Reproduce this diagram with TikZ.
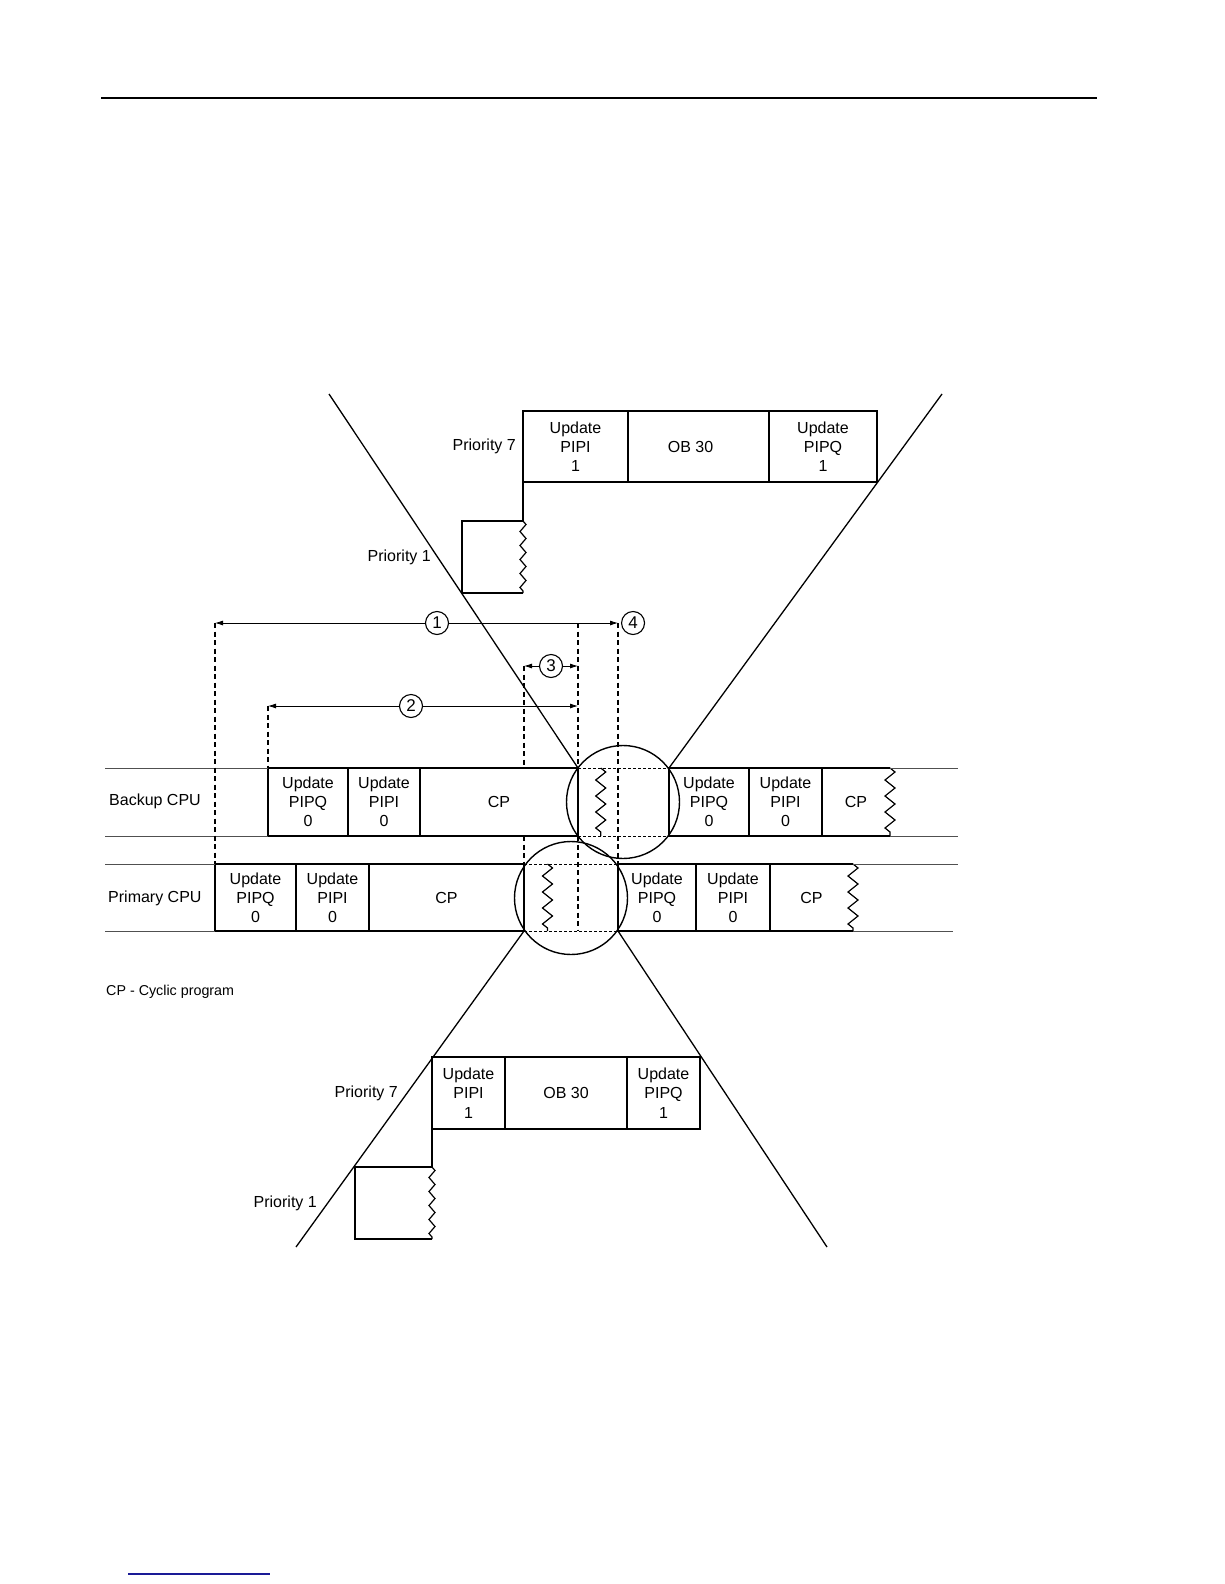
\documentclass[tikz,border=0pt]{standalone}
\usepackage{fontspec}
\setmainfont{Liberation Sans}
\usetikzlibrary{arrows.meta, positioning, calc, decorations.pathmorphing}
\definecolor{linkblue}{HTML}{1A1A96}
\definecolor{railgray}{HTML}{505050}

\begin{document}
\begin{tikzpicture}[
  x=1pt, y=-1pt,
  slot/.style={draw, line width=1.2pt, inner sep=0pt, outer sep=0pt,
               anchor=north west, align=center,
               font=\fontsize{16}{19.2}\selectfont},
  cutbox/.style={slot, draw=none},
  lbl/.style={inner sep=0pt, font=\fontsize{16}{19.2}\selectfont},
  box/.style={line width=1.2pt},
  rim/.style={line width=2pt},
  rail/.style={line width=1pt, draw=railgray},
  ray/.style={line width=1.3pt},
  zz/.style={decorate, decoration={zigzag, segment length=16pt, amplitude=5pt}},
  guide/.style={line width=1.3pt, dash pattern=on 5pt off 3.5pt},
  hidden/.style={line width=0.8pt, dash pattern=on 3pt off 2pt},
  dim/.style={line width=0.8pt, -{Latex[length=8pt,width=5pt]}},
  tag/.style={circle, draw, line width=1.1pt, fill=white, minimum size=23pt,
              inner sep=0pt, font=\fontsize{17}{17}\selectfont},
  lens/.style={circle, draw, line width=1.4pt, minimum size=113pt, inner sep=0pt}
]
\useasboundingbox (0,0) rectangle (1224,1584);

% page rules
\draw[line width=1.4pt] (101,98) -- (1097,98);
\draw[line width=1.4pt, linkblue] (128,1574) -- (270,1574);

% upper interrupt (priority 7 over priority 1)
\node[slot, minimum width=105pt, minimum height=71pt] (tu1) at (523,411) {Update\\PIPI\\1};
\node[slot, minimum width=141pt, minimum height=71pt, right=0pt of tu1] (tob) {OB 30\hspace*{16pt}};
\node[slot, minimum width=108pt, minimum height=71pt, right=0pt of tob] (tuq) {Update\\PIPQ\\1};
\node[cutbox, minimum width=61pt, minimum height=72pt] (tp1) at (462,521) {};
\draw[box] (tp1.north east) -- (tp1.north west) -- (tp1.south west) -- (tp1.south east);
\draw[box, zz, decoration={segment length=14pt, amplitude=3pt}] (tp1.north east) -- (tp1.south east);
\draw[box] (tu1.south west) -- (tp1.north east);
\node[lbl, left=7pt of tu1] (tpr7) {Priority 7};
\node[lbl, left=31pt of tp1] (tpr1) {Priority 1};

% backup CPU
\node[slot, minimum width=80pt, minimum height=68pt] (bq0) at (268,768) {Update\\PIPQ\\0};
\node[slot, minimum width=72pt, minimum height=68pt, right=0pt of bq0] (bi0) {Update\\PIPI\\0};
\node[slot, minimum width=158pt, minimum height=68pt, right=0pt of bi0] (bc0) {CP};
\node[slot, minimum width=80pt, minimum height=68pt] (bq1) at (669,768) {Update\\PIPQ\\0};
\node[slot, minimum width=73pt, minimum height=68pt, right=0pt of bq1] (bi1) {Update\\PIPI\\0};
\node[cutbox, minimum width=68pt, minimum height=68pt, right=0pt of bi1] (bc1) {CP};
\draw[rim] (bq0.north west) -- (bc0.north east);
\draw[rim] (bq0.south west) -- (bc0.south east);
\draw[rim] (bq1.north west) -- (bc1.north east);
\draw[rim] (bq1.south west) -- (bc1.south east);
\draw[box, zz] (bc1.north east) -- (bc1.south east);
\draw[hidden] (bc0.north east) -- (bq1.north west);
\draw[hidden] (bc0.south east) -- (bq1.south west);
\draw[box, zz] ($(bc0.north east)!0.25!(bq1.north west)$) -- ($(bc0.south east)!0.25!(bq1.south west)$);
\coordinate (bl0) at (105,768);
\coordinate (bl1) at (105,836);
\coordinate (br0) at (958,768);
\coordinate (br1) at (958,836);
\draw[rail] (bl0) -- (bq0.north west);
\draw[rail] (bl1) -- (bq0.south west);
\draw[rail] (bc1.north east) -- (br0);
\draw[rail] (bc1.south east) -- (br1);
\node[lbl, anchor=west] (bcpu) at (109,801) {Backup CPU};

% primary CPU
\node[slot, minimum width=81pt, minimum height=67pt] (pq0) at (215,864) {Update\\PIPQ\\0};
\node[slot, minimum width=73pt, minimum height=67pt, right=0pt of pq0] (pi0) {Update\\PIPI\\0};
\node[slot, minimum width=155pt, minimum height=67pt, right=0pt of pi0] (pc0) {CP};
\node[slot, minimum width=78pt, minimum height=67pt] (pq1) at (618,864) {Update\\PIPQ\\0};
\node[slot, minimum width=74pt, minimum height=67pt, right=0pt of pq1] (pi1) {Update\\PIPI\\0};
\node[cutbox, minimum width=83pt, minimum height=67pt, right=0pt of pi1] (pc1) {CP};
\draw[rim] (pq0.north west) -- (pc0.north east);
\draw[rim] (pq0.south west) -- (pc0.south east);
\draw[rim] (pq1.north west) -- (pc1.north east);
\draw[rim] (pq1.south west) -- (pc1.south east);
\draw[box, zz] (pc1.north east) -- (pc1.south east);
\draw[hidden] (pc0.north east) -- (pq1.north west);
\draw[hidden] (pc0.south east) -- (pq1.south west);
\draw[box, zz] ($(pc0.north east)!0.25!(pq1.north west)$) -- ($(pc0.south east)!0.25!(pq1.south west)$);
\coordinate (pl0) at (105,864);
\coordinate (pl1) at (105,931);
\coordinate (pr0) at (958,864);
\coordinate (pr1) at (953,931);
\draw[rail] (pl0) -- (pq0.north west);
\draw[rail] (pl1) -- (pq0.south west);
\draw[rail] (pc1.north east) -- (pr0);
\draw[rail] (pc1.south east) -- (pr1);
\node[lbl, anchor=west] (pcpu) at (108,898) {Primary CPU};

\node[anchor=west, inner sep=0pt, font=\fontsize{14.3}{17}\selectfont] (key) at (106,992) {CP - Cyclic program};

% time spans
\coordinate (d1l) at (215,623);
\coordinate (d1r) at (618,623);
\coordinate (d1m) at (578,623);
\coordinate (d3l) at (524,666);
\coordinate (d3r) at (578,666);
\coordinate (d2l) at (268,706);
\coordinate (d2r) at (578,706);
\coordinate (dlow) at (578,931);
\draw[guide] (d1l) -- (pq0.north west);
\draw[guide] (d1r) -- (pq1.north west);
\draw[guide] (d1m) -- (bc0.north east);
\draw[guide] (bc0.south east) -- (dlow);
\draw[guide] (d3l) -- (d3l |- bc0.north);
\draw[guide] (d3l |- bc0.south) -- (pc0.north east);
\draw[guide] (d2l) -- (bq0.north west);

\node[tag] (n1) at (437,623) {1};
\node[tag, right=3pt of d1r] (n4) {4};
\node[tag] (n3) at (551,666) {3};
\node[tag] (n2) at (411,706) {2};
\draw[dim] (n1) -- (d1l);
\draw[dim] (n1) -- (d1r);
\draw[dim] (n3) -- (d3l);
\draw[dim] (n3) -- (d3r);
\draw[dim] (n2) -- (d2l);
\draw[dim] (n2) -- (d2r);

% lower interrupt (priority 7 over priority 1)
\node[slot, minimum width=73pt, minimum height=72pt] (lu1) at (432,1057) {Update\\PIPI\\1};
\node[slot, minimum width=122pt, minimum height=72pt, right=0pt of lu1] (lob) {OB 30};
\node[slot, minimum width=73pt, minimum height=72pt, right=0pt of lob] (luq) {Update\\PIPQ\\1};
\node[cutbox, minimum width=77pt, minimum height=72pt] (lp1) at (355,1167) {};
\draw[box] (lp1.north east) -- (lp1.north west) -- (lp1.south west) -- (lp1.south east);
\draw[box, zz, decoration={segment length=14pt, amplitude=3pt}] (lp1.north east) -- (lp1.south east);
\draw[box] (lu1.south west) -- (lp1.north east);
\node[lbl, left=34pt of lu1] (lpr7) {Priority 7};
\node[lbl, left=38pt of lp1] (lpr1) {Priority 1};

% magnifier rays
\coordinate (rtl) at (329,394);
\coordinate (rtr) at (942,394);
\coordinate (rbl) at (296,1247);
\coordinate (rbr) at (827,1247);
\draw[ray] (rtl) -- (bc0.north east);
\draw[ray] (rtr) -- (bq1.north west);
\draw[ray] (pc0.south east) -- (rbl);
\draw[ray] (pq1.south west) -- (rbr);

\node[lens] (bzoom) at (623,802) {};
\node[lens] (pzoom) at (571,898) {};
\end{tikzpicture}
\end{document}
